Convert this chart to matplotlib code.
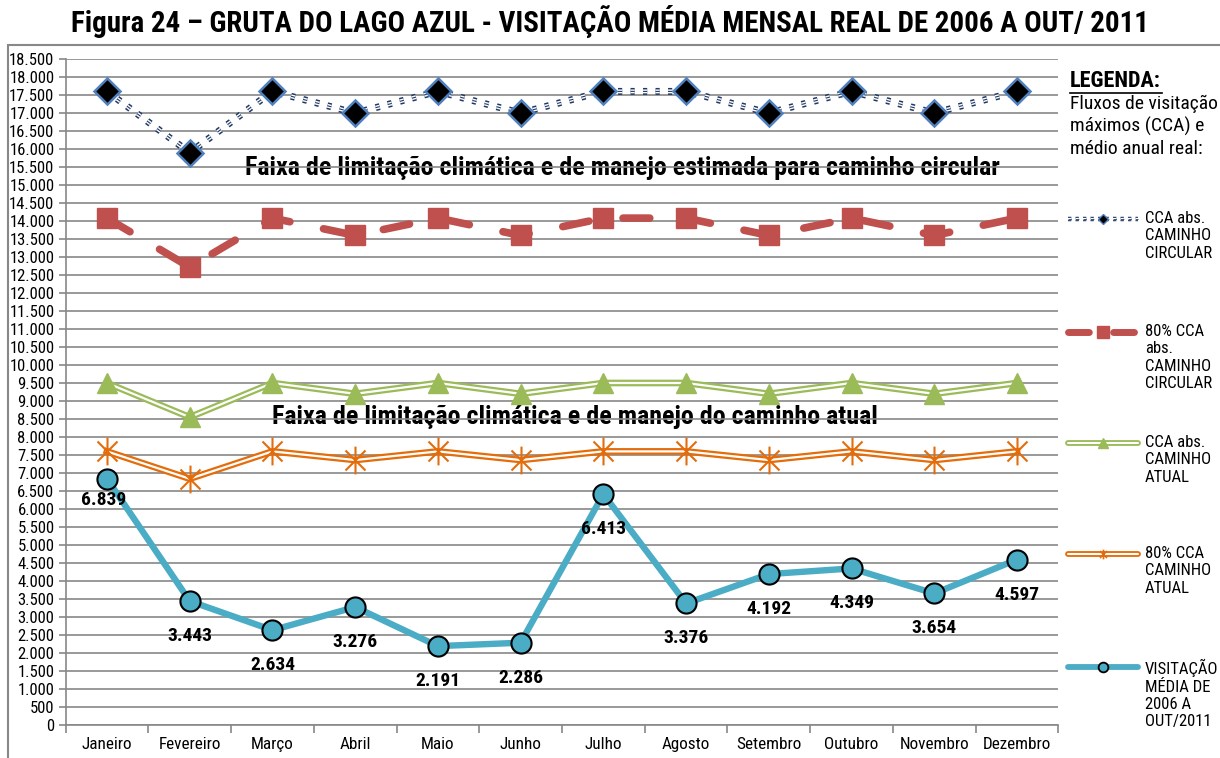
import matplotlib
matplotlib.use("Agg")
import matplotlib.pyplot as plt
from matplotlib.lines import Line2D
from matplotlib.patches import Rectangle
from matplotlib.path import Path
import matplotlib.patheffects as pe

# ---------------- data ----------------
months = ["Janeiro", "Fevereiro", "Março", "Abril", "Maio", "Junho", "Julho",
          "Agosto", "Setembro", "Outubro", "Novembro", "Dezembro"]
cca_circular = [17600, 15900, 17600, 17000, 17600, 17000, 17600, 17600, 17000, 17600, 17000, 17600]
cca80_circular = [14080, 12720, 14080, 13600, 14080, 13600, 14080, 14080, 13600, 14080, 13600, 14080]
cca_atual = [9500, 8550, 9500, 9200, 9500, 9200, 9500, 9500, 9200, 9500, 9200, 9500]
cca80_atual = [7600, 6840, 7600, 7360, 7600, 7360, 7600, 7600, 7360, 7600, 7360, 7600]
visitacao = [6839, 3443, 2634, 3276, 2191, 2286, 6413, 3376, 4192, 4349, 3654, 4597]
y_ticks = list(range(0, 18501, 500))

title = "Figura 24 – GRUTA DO LAGO AZUL - VISITAÇÃO MÉDIA MENSAL REAL DE 2006 A OUT/ 2011"
band1 = "Faixa de limitação climática e de manejo estimada para caminho circular"
band2 = "Faixa de limitação climática e de manejo do caminho atual"
legend_title = "LEGENDA:"
legend_sub = "Fluxos de visitação\nmáximos (CCA) e\nmédio anual real:"
legend_labels = ["CCA abs.\nCAMINHO\nCIRCULAR", "80% CCA\nabs.\nCAMINHO\nCIRCULAR",
                 "CCA abs.\nCAMINHO\nATUAL", "80% CCA\nCAMINHO\nATUAL",
                 "VISITAÇÃO\nMÉDIA DE\n2006 A\nOUT/2011"]

# ---------------- fonts ----------------
plt.rcParams["font.family"] = ["Roboto Condensed", "Liberation Sans", "DejaVu Sans"]

# ---------------- colours ----------------
NAVY = "#1F3864"
DIA_EDGE = "#4F81BD"
RED = "#C0504D"
GREEN = "#9BBB59"
ORANGE = "#E46C0A"
BLUE = "#4BACC6"
GRID = "#888888"

W, H = 1220, 758
fig = plt.figure(figsize=(W / 100, H / 100), dpi=100)


def fx(px):
    return px / W


def fy(py):
    return 1 - py / H


ax = fig.add_axes([fx(65.6), fy(725), fx(1058.4) - fx(65.6), fy(59) - fy(725)])
x = list(range(len(months)))

star = Path([(0, -1), (0, 1), (-0.72, -0.72), (0.72, 0.72), (-0.72, 0.72), (0.72, -0.72)],
            [Path.MOVETO, Path.LINETO, Path.MOVETO, Path.LINETO, Path.MOVETO, Path.LINETO])

l, = ax.plot(x, cca_circular, color=NAVY, lw=0.8, zorder=3)
l.set_dashes([3.75, 7.5])
l.set_path_effects([pe.Stroke(linewidth=5.0, foreground=NAVY),
                    pe.Stroke(linewidth=2.8, foreground="white"), pe.Normal()])
ax.plot(x, cca_circular, ls="none", marker="D", ms=13, mfc="black", mec=DIA_EDGE, mew=1.8, zorder=4)

l, = ax.plot(x, cca80_circular, color=RED, lw=5.5, dash_capstyle="round", zorder=3)
l.set_dashes([3.5, 4.5])
ax.plot(x, cca80_circular, ls="none", marker="s", ms=15, mfc=RED, mec=RED, zorder=4)

ax.plot(x, cca_atual, color="white", lw=1.6, zorder=3,
        path_effects=[pe.Stroke(linewidth=4.8, foreground=GREEN), pe.Normal()])
ax.plot(x, cca_atual, ls="none", marker="^", ms=15, mfc=GREEN, mec=GREEN, zorder=4)

ax.plot(x, cca80_atual, color="white", lw=1.6, zorder=3,
        path_effects=[pe.Stroke(linewidth=4.8, foreground=ORANGE), pe.Normal()])
ax.plot(x, cca80_atual, ls="none", marker=star, ms=20, mfc="none", mec=ORANGE, mew=1.5, zorder=4)

ax.plot(x, visitacao, color=BLUE, lw=4.6, solid_joinstyle="round", zorder=5)
ax.plot(x, visitacao, ls="none", marker="o", ms=14.5, mfc=BLUE, mec="black", mew=1.5, zorder=6)

for i, v in enumerate(visitacao):
    off = -21 if i == 0 else -35
    dx = -3 if i == 0 else 0
    ax.annotate(f"{v:,}".replace(",", "."), (i, v), xytext=(dx * 0.72, off * 0.72),
                textcoords="offset points", ha="center", va="center",
                fontsize=14, fontweight="bold", zorder=7)

ax.text(0.5605, 0.836, band1, transform=ax.transAxes, ha="center", va="center",
        fontsize=18.7, fontweight="bold", zorder=0.3)
ax.text(0.513, 0.4625, band2, transform=ax.transAxes, ha="center", va="center",
        fontsize=18.7, fontweight="bold", zorder=0.3)

ax.set_xlim(-0.5, len(months) - 0.5)
ax.set_ylim(0, 18500)
ax.set_yticks(y_ticks)
ax.set_yticklabels([f"{t:,}".replace(",", ".") for t in y_ticks], fontsize=12)
ax.set_xticks([i - 0.5 for i in range(len(months) + 1)])
ax.set_xticklabels([])
ax.set_xticks(x, minor=True)
ax.set_xticklabels(months, minor=True, fontsize=12.3)
ax.tick_params(axis="x", which="minor", length=0, pad=8.5)
ax.tick_params(axis="x", which="major", length=6, color=GRID, width=1.2)
ax.tick_params(axis="y", length=5, color=GRID, width=1.2, pad=3)
ax.grid(axis="y", color=GRID, lw=1.2)
ax.set_axisbelow(True)
for s in ["top", "right"]:
    ax.spines[s].set_visible(False)
for s in ["left", "bottom"]:
    ax.spines[s].set_color(GRID)
    ax.spines[s].set_linewidth(1.2)

fig.add_artist(Rectangle((fx(8), -0.02), 1.05, fy(45) + 0.02, transform=fig.transFigure,
                         fill=False, edgecolor=GRID, lw=1.5))

fig.text(0.5, fy(22), title, ha="center", va="center", fontsize=20.9, fontweight="bold")

fig.text(fx(1070), fy(81), legend_title, ha="left", va="center", fontsize=16,
         fontweight="bold")
fig.add_artist(Line2D([fx(1070), fx(1162)], [fy(93), fy(93)], color="black", lw=1.2,
                      transform=fig.transFigure))
fig.text(fx(1070), fy(95), legend_sub, ha="left", va="top", fontsize=14, linespacing=1.25)

hx0, hx1, hxm = fx(1068), fx(1138), fx(1103)
ys = [219, 332, 443, 554, 667]


def leg_line(yp, **kw):
    ln = Line2D([hx0, hx1], [fy(yp), fy(yp)], transform=fig.transFigure, **kw)
    fig.add_artist(ln)
    return ln


def leg_marker(yp, **kw):
    fig.add_artist(Line2D([hxm], [fy(yp)], transform=fig.transFigure, ls="none", **kw))


ln = leg_line(ys[0], color=NAVY, lw=0.6)
ln.set_dashes([4, 5])
ln.set_path_effects([pe.Stroke(linewidth=3.2, foreground=NAVY),
                     pe.Stroke(linewidth=1.6, foreground="white"), pe.Normal()])
leg_marker(ys[0], marker="D", ms=5, mfc="black", mec=DIA_EDGE, mew=1)

ln = leg_line(ys[1], color=RED, lw=5, dash_capstyle="round")
ln.set_dashes([3, 3.5])
leg_marker(ys[1], marker="s", ms=9, mfc=RED, mec=RED)

leg_line(ys[2], color="white", lw=1.5, solid_capstyle="round",
         path_effects=[pe.Stroke(linewidth=4.2, foreground=GREEN), pe.Normal()])
leg_marker(ys[2], marker="^", ms=7, mfc=GREEN, mec=GREEN)

leg_line(ys[3], color="white", lw=1.5, solid_capstyle="round",
         path_effects=[pe.Stroke(linewidth=4.2, foreground=ORANGE), pe.Normal()])
leg_marker(ys[3], marker=star, ms=7, mfc="none", mec=ORANGE, mew=1.2)

leg_line(ys[4], color=BLUE, lw=4.2, solid_capstyle="round")
leg_marker(ys[4], marker="o", ms=7, mfc=BLUE, mec="black", mew=1.3)

for yp, lab in zip(ys, legend_labels):
    fig.text(fx(1145), fy(yp - 8), lab, ha="left", va="top", fontsize=12, linespacing=1.2)

fig.savefig("out.png", dpi=100)
